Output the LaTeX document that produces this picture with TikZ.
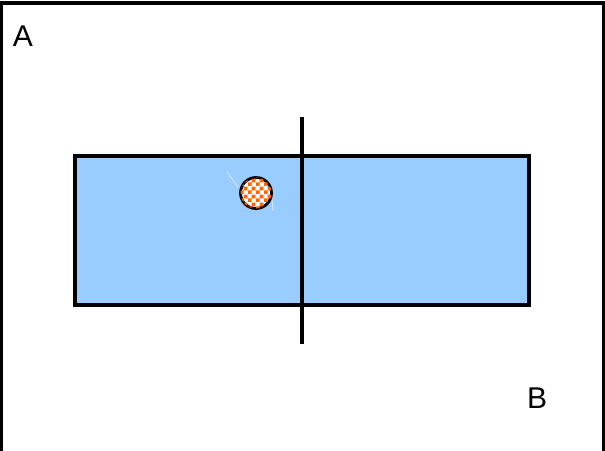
\documentclass[tikz,border=0pt]{standalone}
\usepackage{fontspec}
\setmainfont{Liberation Sans}
\usetikzlibrary{patterns}
\definecolor{poolblue}{RGB}{153,204,255}
\definecolor{ballorange}{RGB}{255,102,0}
\pgfdeclarepatternformonly{bigchecker}{\pgfpointorigin}{\pgfqpoint{8pt}{8pt}}{\pgfqpoint{8pt}{8pt}}{%
  \pgfpathrectangle{\pgfpointorigin}{\pgfqpoint{4pt}{4pt}}%
  \pgfpathrectangle{\pgfqpoint{4pt}{4pt}}{\pgfqpoint{4pt}{4pt}}%
  \pgfusepath{fill}}
\tikzset{
  thickline/.style={line width=3.2pt},
  letter/.style={font=\fontsize{30}{30}\selectfont, inner sep=0pt}
}
\begin{document}
\begin{tikzpicture}[x=1pt, y=-1pt]
  \useasboundingbox (0,0) rectangle (605,450);
  % frame
  \draw[thickline] (1.5,460) -- (1.5,3) -- (603.5,3) -- (603.5,460);
  % labels
  \node[letter] (lblA) at (23,36) {A};
  \node[letter] (lblB) at (537,398) {B};
  % rectangle
  \draw[thickline, fill=poolblue] (75,156) rectangle (529,305);
  % faint trace
  \draw[white!60!poolblue, line width=0.8pt] (227,172) -- (238,187);
  \draw[white!60!poolblue, line width=0.8pt] (272,199) -- (273,211);
  % vertical line
  \draw[thickline] (302,117) -- (302,344);
  % ball
  \node[circle, minimum size=31pt, inner sep=0pt, line width=2.8pt, draw, fill=white,
        postaction={pattern=bigchecker, pattern color=ballorange}] (ball) at (256,193) {};
\end{tikzpicture}
\end{document}
